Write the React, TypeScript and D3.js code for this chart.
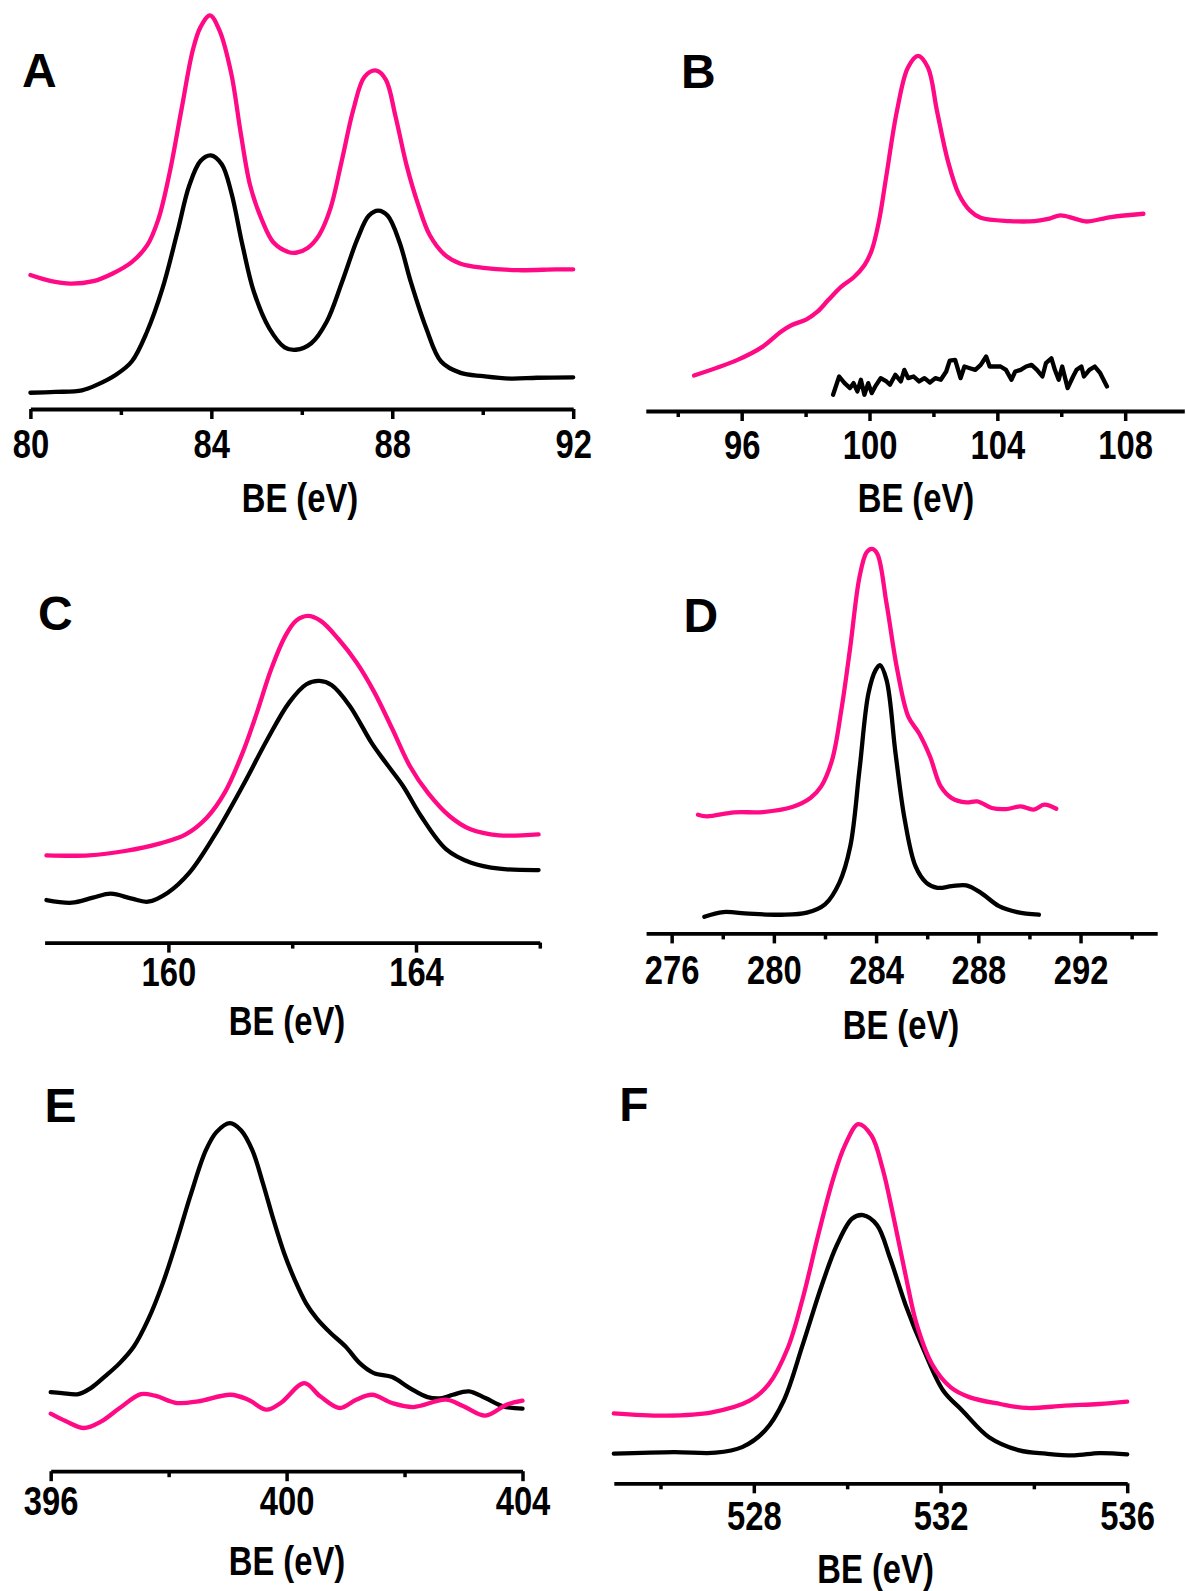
import React, { useEffect, useRef } from "react";
import * as d3 from "d3";

type Pt = [number, number];

// ---------- DATA (binding energy eV, intensity a.u.) ----------
const aPink: Pt[] = [[80.0,33.0],[80.46,31.5],[80.89,30.9],[81.39,31.5],[81.82,33.4],[82.24,36.2],[82.58,40.3],[82.83,46.8],[83.08,58.3],[83.34,73.8],[83.59,88.4],[83.76,94.1],[83.97,97.0],[84.18,93.3],[84.44,82.7],[84.65,68.0],[84.86,55.0],[85.11,46.8],[85.37,41.1],[85.7,38.7],[85.87,38.5],[86.13,39.7],[86.38,42.8],[86.63,49.3],[86.89,61.5],[87.14,73.8],[87.39,81.9],[87.65,83.4],[87.86,81.1],[88.07,72.2],[88.32,59.9],[88.58,50.1],[88.83,42.8],[89.17,37.9],[89.51,35.8],[90.01,34.8],[90.77,34.2],[91.62,34.4],[92.0,34.4]];
const aBlack: Pt[] = [[80.0,4.0],[80.55,4.2],[81.14,4.6],[81.48,6.0],[81.9,8.5],[82.24,11.7],[82.58,19.1],[82.92,29.7],[83.25,43.6],[83.51,55.0],[83.76,61.1],[83.99,62.5],[84.23,60.3],[84.44,53.4],[84.69,40.3],[84.94,28.9],[85.28,19.9],[85.62,15.2],[85.87,14.6],[86.21,16.2],[86.55,21.5],[86.89,31.3],[87.23,41.9],[87.48,47.6],[87.69,48.9],[87.9,47.6],[88.16,41.1],[88.41,31.3],[88.75,19.9],[89.08,11.7],[89.51,8.9],[90.01,8.1],[90.61,7.5],[91.2,7.7],[92.0,7.8]];

const bPink: Pt[] = [[94.51,8.75],[95.87,12.6],[96.66,15.87],[97.23,19.55],[97.57,21.19],[98.03,22.58],[98.37,24.46],[98.71,27.33],[99.11,30.6],[99.5,32.9],[99.84,35.92],[100.07,39.6],[100.3,46.97],[100.52,57.6],[100.86,74.0],[101.2,84.6],[101.52,87.5],[101.83,84.6],[102.11,74.0],[102.45,61.7],[102.79,53.5],[103.14,49.4],[103.48,47.6],[104.38,46.8],[105.17,46.8],[105.63,47.4],[105.97,48.2],[106.42,47.4],[106.76,46.7],[107.56,47.8],[108.57,48.6]];
const bBlack: Pt[] = [[98.86,4.0],[99.05,8.5],[99.22,6.87],[99.39,5.64],[99.5,6.87],[99.62,4.82],[99.73,7.69],[99.84,4.0],[99.96,6.87],[100.07,4.41],[100.18,6.05],[100.35,8.1],[100.53,7.28],[100.64,6.46],[100.81,8.91],[100.98,7.28],[101.09,10.14],[101.21,8.1],[101.38,8.5],[101.55,7.28],[101.72,8.1],[101.89,7.03],[102.06,8.1],[102.23,7.69],[102.4,9.73],[102.51,12.43],[102.68,12.6],[102.85,8.1],[102.97,10.96],[103.14,10.55],[103.31,10.14],[103.48,11.37],[103.65,13.42],[103.76,10.96],[103.93,10.96],[104.1,10.96],[104.27,10.14],[104.44,7.69],[104.56,9.73],[104.73,10.14],[104.9,10.96],[105.07,11.37],[105.24,10.14],[105.41,8.5],[105.52,11.78],[105.69,13.0],[105.8,10.14],[105.92,7.69],[106.03,10.96],[106.2,5.64],[106.37,8.5],[106.48,10.14],[106.63,10.96],[106.71,8.5],[106.88,10.14],[107.05,10.96],[107.22,9.32],[107.43,6.05]];

const cPink: Pt[] = [[158.03,21.5],[158.72,21.5],[159.3,22.57],[159.87,24.46],[160.28,26.68],[160.62,30.79],[160.91,36.95],[161.2,46.81],[161.43,56.67],[161.66,67.36],[161.89,75.58],[162.06,79.27],[162.25,80.5],[162.46,79.27],[162.75,74.75],[163.04,69.0],[163.33,61.6],[163.62,52.56],[163.9,43.52],[164.19,36.95],[164.54,31.2],[164.88,27.91],[165.34,26.43],[165.98,26.68]];
const cBlack: Pt[] = [[158.03,10.49],[158.44,9.83],[158.78,11.06],[159.07,12.05],[159.41,10.82],[159.67,10.08],[159.99,12.3],[160.34,17.23],[160.74,26.27],[161.2,38.6],[161.6,50.1],[161.95,59.14],[162.23,63.66],[162.44,64.48],[162.64,63.41],[162.93,58.32],[163.28,49.28],[163.51,44.35],[163.79,38.6],[164.08,31.2],[164.49,22.98],[164.89,19.69],[165.35,18.21],[165.98,17.88]];

const dPink: Pt[] = [[277.03,29.25],[277.38,28.84],[278.45,29.82],[279.58,29.9],[280.72,31.13],[281.43,33.34],[281.85,36.21],[282.28,42.76],[282.64,55.04],[282.99,70.6],[283.35,87.8],[283.63,93.9],[283.84,94.75],[284.05,93.5],[284.41,81.24],[284.83,64.87],[285.26,53.4],[285.68,49.3],[286.11,43.58],[286.53,36.21],[286.96,33.34],[287.53,32.28],[287.96,32.53],[288.53,30.89],[289.09,30.64],[289.66,31.3],[290.16,30.48],[290.58,31.71],[291.05,30.72]];
const dBlack: Pt[] = [[277.28,4.11],[278.02,5.26],[279.02,4.85],[280.29,4.6],[281.29,5.1],[282.0,7.14],[282.56,12.46],[282.99,21.47],[283.35,40.3],[283.7,59.14],[283.98,64.87],[284.15,66.1],[284.41,62.41],[284.76,44.4],[285.12,28.02],[285.54,16.56],[285.97,12.46],[286.4,11.23],[286.96,11.64],[287.53,11.81],[288.1,10.0],[288.81,6.73],[289.52,5.26],[290.37,4.6]];

const ePink: Pt[] = [[396.0,14.18],[396.26,12.29],[396.56,10.65],[396.86,12.29],[397.17,15.57],[397.53,19.0],[397.77,18.6],[398.14,16.8],[398.5,17.21],[399.05,18.84],[399.35,17.62],[399.66,15.16],[399.9,16.8],[400.3,21.71],[400.57,18.44],[400.9,15.57],[401.18,17.62],[401.45,18.84],[401.79,16.8],[402.15,15.81],[402.7,17.62],[403.0,15.98],[403.37,13.68],[403.73,16.39],[404.0,17.37]];
const eBlack: Pt[] = [[396.0,19.5],[396.19,19.25],[396.47,19.0],[396.68,20.48],[396.92,23.35],[397.17,26.63],[397.41,30.72],[397.65,37.27],[397.9,46.28],[398.14,56.93],[398.38,68.39],[398.63,79.04],[398.81,83.55],[399.04,85.76],[399.23,83.96],[399.42,79.04],[399.6,70.85],[399.78,61.84],[399.96,53.65],[400.14,47.1],[400.33,41.37],[400.51,37.68],[400.75,34.0],[401.0,30.72],[401.24,26.63],[401.48,24.17],[401.79,23.19],[402.09,20.48],[402.39,18.27],[402.64,18.03],[402.82,18.84],[403.09,19.66],[403.37,18.03],[403.67,15.98],[404.0,15.4]];

const fPink: Pt[] = [[525.0,17.25],[526.12,16.68],[527.1,17.49],[527.91,20.35],[528.32,24.43],[528.73,33.41],[529.05,45.66],[529.38,61.17],[529.7,75.0],[529.95,83.2],[530.24,88.5],[530.52,85.7],[530.76,77.5],[531.0,65.25],[531.25,51.37],[531.49,39.13],[531.82,29.33],[532.22,23.62],[532.63,21.17],[533.28,19.54],[533.85,18.56],[534.66,19.13],[535.4,19.54],[536.0,20.1]];
const fBlack: Pt[] = [[525.0,7.29],[526.29,7.7],[527.18,7.54],[527.75,8.92],[528.24,13.0],[528.64,20.35],[529.05,34.23],[529.46,48.92],[529.78,58.72],[530.11,65.25],[530.34,66.07],[530.64,63.62],[530.92,55.45],[531.25,44.02],[531.65,32.6],[532.06,22.8],[532.47,17.9],[533.04,11.37],[533.69,8.11],[534.26,7.29],[534.87,6.88],[535.4,7.45],[536.0,7.13]];

const aMajor = [80, 84, 88, 92];
const aMinor = [82, 86, 90];
const bMajor = [96, 100, 104, 108];
const bMinor = [94, 98, 102, 106];
const cMajor = [160, 164];
const cMinor = [162, 166];
const dMajor = [276, 280, 284, 288, 292];
const dMinor = [278, 282, 286, 290, 294];
const eMajor = [396, 400, 404];
const eMinor = [398, 402];
const fMajor = [528, 532, 536];
const fMinor = [526, 530, 534];

const AXIS_TITLE = "BE (eV)";

// ---------- STYLE / LAYOUT ----------
const PINK = "#ff0a84";
const BLACK = "#000000";
const FONT = "'Liberation Sans', Arial, Helvetica, sans-serif";
const LINE_W = 4.3;

interface PanelDef {
  letter: string;
  domain: [number, number];
  range: [number, number];
  axisY: number;
  labelY: number;
  titleX: number;
  titleY: number;
  letterX: number;
  letterY: number;
  major: number[];
  minor: number[];
  pink: Pt[];
  black: Pt[];
  blackLinear?: boolean;
}

const panels: PanelDef[] = [
  { letter: "A", domain: [80, 92], range: [30.4, 573.2], axisY: 409, labelY: 49.5, titleX: 300, titleY: 512, letterX: 22, letterY: 87, major: aMajor, minor: aMinor, pink: aPink, black: aBlack },
  { letter: "B", domain: [93, 109.85], range: [645.8, 1184.3], axisY: 411, labelY: 48, titleX: 916, titleY: 512, letterX: 681, letterY: 87.5, major: bMajor, minor: bMinor, pink: bPink, black: bBlack, blackLinear: true },
  { letter: "C", domain: [158, 166], range: [44.6, 539.8], axisY: 942.6, labelY: 43.5, titleX: 287, titleY: 1035, letterX: 38, letterY: 630, major: cMajor, minor: cMinor, pink: cPink, black: cBlack },
  { letter: "D", domain: [275, 295], range: [646.1, 1157.2], axisY: 933.4, labelY: 51, titleX: 901, titleY: 1039, letterX: 683.5, letterY: 632, major: dMajor, minor: dMinor, pink: dPink, black: dBlack },
  { letter: "E", domain: [396, 404], range: [50.7, 522.5], axisY: 1471.2, labelY: 43.5, titleX: 287, titleY: 1575, letterX: 44.5, letterY: 1122, major: eMajor, minor: eMinor, pink: ePink, black: eBlack },
  { letter: "F", domain: [525, 536], range: [613.8, 1127.2], axisY: 1483.3, labelY: 46.5, titleX: 875.6, titleY: 1583, letterX: 619.3, letterY: 1121, major: fMajor, minor: fMinor, pink: fPink, black: fBlack },
];

const PX_PER_UNIT = 4.0584;

function Panel({ p }: { p: PanelDef }) {
  const axisRef = useRef<SVGGElement>(null);
  const x = d3.scaleLinear().domain(p.domain).range(p.range);
  const y = d3.scaleLinear().domain([0, 100]).range([p.axisY, p.axisY - 100 * PX_PER_UNIT]);

  const smooth = d3.line<Pt>().x((d) => x(d[0])).y((d) => y(d[1])).curve(d3.curveCatmullRom.alpha(0.5));
  const straight = d3.line<Pt>().x((d) => x(d[0])).y((d) => y(d[1])).curve(d3.curveLinear);

  useEffect(() => {
    if (!axisRef.current) return;
    const g = d3.select(axisRef.current);
    g.selectAll("*").remove();
    const minorG = g.append("g");
    minorG.call(d3.axisBottom(x).tickValues(p.minor).tickSize(6).tickSizeOuter(0).tickFormat(() => ""));
    minorG.select(".domain").remove();
    minorG.selectAll(".tick line").attr("stroke", BLACK).attr("stroke-width", 3.5);
    const majorG = g.append("g");
    majorG.call(d3.axisBottom(x).tickValues(p.major).tickSize(10).tickSizeOuter(0).tickFormat(d3.format("d")));
    majorG.select(".domain").attr("stroke", BLACK).attr("stroke-width", 3.8);
    majorG.selectAll(".tick line").attr("stroke", BLACK).attr("stroke-width", 3.5);
    majorG
      .selectAll(".tick text")
      .attr("y", p.labelY)
      .attr("dy", null)
      .attr("fill", BLACK)
      .attr("font-family", FONT)
      .attr("font-weight", "bold")
      .attr("font-size", 40)
      .attr("transform", "scale(0.82,1)");
  }, []);

  return (
    <g>
      <path d={p.blackLinear ? straight(p.black) || "" : smooth(p.black) || ""} fill="none" stroke={BLACK} strokeWidth={LINE_W} strokeLinejoin="round" strokeLinecap="round" />
      <path d={smooth(p.pink) || ""} fill="none" stroke={PINK} strokeWidth={LINE_W} strokeLinejoin="round" strokeLinecap="round" />
      <g ref={axisRef} transform={`translate(0,${p.axisY})`} />
      <text
        transform={`translate(${p.titleX},${p.titleY}) scale(0.82,1)`}
        textAnchor="middle"
        fontFamily={FONT}
        fontWeight="bold"
        fontSize={40}
        fill={BLACK}
      >
        {AXIS_TITLE}
      </text>
      <text x={p.letterX} y={p.letterY} fontFamily={FONT} fontWeight="bold" fontSize={48} fill={BLACK}>
        {p.letter}
      </text>
    </g>
  );
}

export default function App() {
  return (
    <svg
      width={1186}
      height={1591}
      viewBox="0 0 1186 1591"
      style={{ position: "absolute", left: 0, top: 0, display: "block", background: "#ffffff" }}
    >
      <rect x={0} y={0} width={1186} height={1591} fill="#ffffff" />
      {panels.map((p) => (
        <Panel key={p.letter} p={p} />
      ))}
    </svg>
  );
}
